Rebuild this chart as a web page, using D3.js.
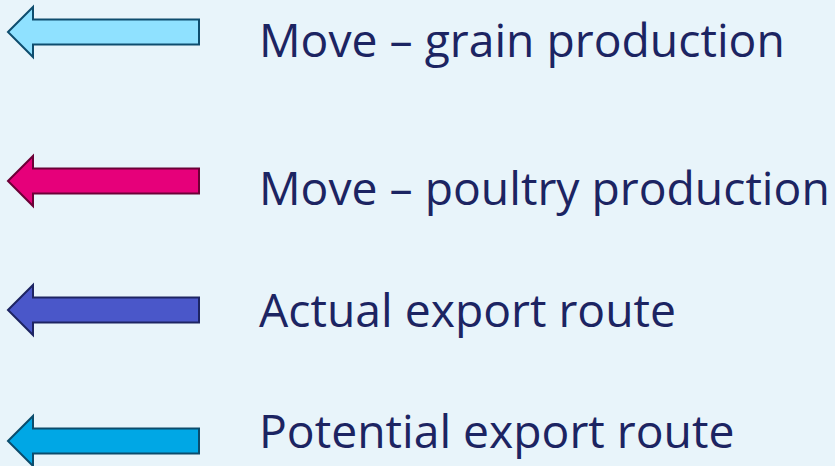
<!DOCTYPE html>
<html>
<head>
<meta charset="utf-8">
<script src="https://cdn.jsdelivr.net/npm/d3@7"></script>
<style>
  html, body { margin: 0; padding: 0; background: #e8f4fa; }
</style>
</head>
<body>
<svg id="legend"></svg>
<script>
// legend entries
var labels = ["Move \u2013 grain production", "Move \u2013 poultry production", "Actual export route", "Potential export route"]
var fills = ["#8fe1ff", "#e6007a", "#4a57c9", "#00a7e5"]
var strokes = ["#0e4d6e", "#6b0036", "#1d2462", "#0b4c6c"]

var width = 835, height = 466
var rowY = [32, 181, 310, 441]      // arrow centre lines
var textY = [57, 205, 327, 448]     // text baselines
var textX = 259
var fontFamily = "'Open Sans', sans-serif"

var svg = d3.select("#legend")
    .attr("width", width)
    .attr("height", height)
    .style("background", "#e8f4fa")

var x = d3.scaleLinear().domain([0, 1]).range([8, 199])  // arrow from tip (0) to tail (1)

function arrowPath(cy) {
    var headX = 33, shaft = 12.5, head = 25
    var p = d3.path()
    p.moveTo(x(0), cy)
    p.lineTo(headX, cy - head)
    p.lineTo(headX, cy - shaft)
    p.lineTo(x(1), cy - shaft)
    p.lineTo(x(1), cy + shaft)
    p.lineTo(headX, cy + shaft)
    p.lineTo(headX, cy + head)
    p.closePath()
    return p.toString()
}

var rows = labels.map(function(d, i) { return {label: d, fill: fills[i], stroke: strokes[i], i: i} })

svg.selectAll("path.arrow")
    .data(rows)
    .enter()
    .append("path")
    .attr("class", "arrow")
    .attr("d", function(d) { return arrowPath(rowY[d.i]) })
    .attr("fill", function(d) { return d.fill })
    .attr("stroke", function(d) { return d.stroke })
    .attr("stroke-width", 2)
    .attr("stroke-linejoin", "miter")

var texts = svg.selectAll("text.label")
    .data(rows)
    .enter()
    .append("text")
    .attr("class", "label")
    .attr("x", textX)
    .attr("y", function(d) { return textY[d.i] })
    .attr("font-family", fontFamily)
    .attr("font-size", "100px")
    .attr("fill", "#1c2462")
    .text(function(d) { return d.label })

// size font so the longest label spans like the original (~572px)
var longest = d3.max(texts.nodes(), function(n) { return n.getComputedTextLength() })
var fs = 100 * 571 / longest
texts.attr("font-size", fs + "px")
</script>
</body>
</html>
